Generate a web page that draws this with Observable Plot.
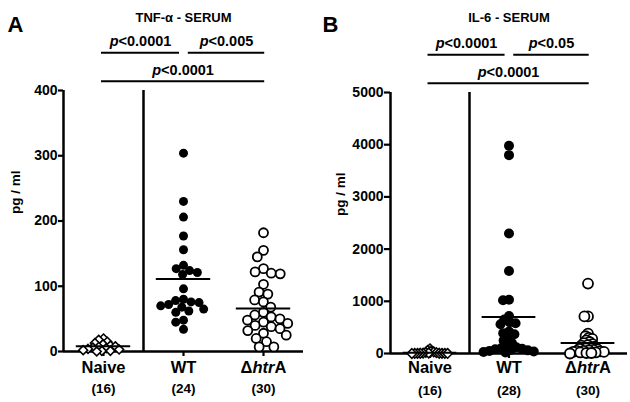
<!DOCTYPE html>
<html>
<head>
<meta charset="utf-8">
<script src="https://cdn.jsdelivr.net/npm/d3@7"></script>
<script src="https://cdn.jsdelivr.net/npm/@observablehq/plot@0.6"></script>
<style>
  html, body { margin: 0; padding: 0; background: white; }
  #wrap { display: flex; width: 630px; height: 402px; }
</style>
</head>
<body>
<div id="wrap"></div>
<script>
// ---- data ----
const categories = ["Naive", "WT", "ΔhtrA"];

// Panel A: TNF-α (pg/ml)
const tnfNaive = [20, 18, 15, 13, 11, 9, 8, 7, 6, 5, 4, 3, 2, 1, 1, 0];
const tnfWT = [304, 230, 206, 177, 156, 132, 127, 124, 121, 118, 96, 80, 78, 76, 75, 72, 70, 68, 65, 62, 60, 48, 45, 34];
const tnfHtrA = [182, 155, 145, 127, 122, 120, 119, 103, 91, 88, 79, 76, 68, 60, 56, 53, 50, 48, 45, 43, 40, 38, 35, 32, 28, 25, 20, 15, 7, 7];
const tnfMeans = [8, 111, 66];
const tnfCounts = ["(16)", "(24)", "(30)"];
const tnfTicks = [0, 100, 200, 300, 400];
const tnfComparisons = [
  {from: "Naive", to: "WT", label: "p<0.0001", level: 1},
  {from: "WT", to: "ΔhtrA", label: "p<0.005", level: 1},
  {from: "Naive", to: "ΔhtrA", label: "p<0.0001", level: 0}
];

// Panel B: IL-6 (pg/ml)
const il6Naive = [90, 60, 40, 30, 20, 15, 10, 8, 5, 5, 3, 2, 2, 1, 1, 0];
const il6WT = [3980, 3800, 2300, 1580, 1030, 1020, 720, 650, 600, 580, 560, 420, 390, 370, 300, 250, 200, 150, 120, 100, 90, 80, 70, 60, 50, 40, 30, 20];
const il6HtrA = [1340, 710, 710, 380, 330, 300, 280, 250, 220, 200, 180, 160, 150, 130, 120, 100, 90, 80, 70, 60, 50, 50, 40, 30, 30, 20, 20, 10, 10, 0];
const il6Means = [12, 700, 200];
const il6Counts = ["(16)", "(28)", "(30)"];
const il6Ticks = [0, 1000, 2000, 3000, 4000, 5000];
const il6Comparisons = [
  {from: "Naive", to: "WT", label: "p<0.0001", level: 1},
  {from: "WT", to: "ΔhtrA", label: "p<0.05", level: 1},
  {from: "Naive", to: "ΔhtrA", label: "p<0.0001", level: 0}
];

// ---- drawing ----
function panel(cfg) {
  const idx = c => categories.indexOf(c);
  const ymax = cfg.ticks[cfg.ticks.length - 1];
  const data = categories.flatMap((c, i) => cfg.values[i].map(v => ({g: c, v})));
  const means = categories.map((c, i) => ({g: c, m: cfg.means[i]}));
  const last = categories.length - 1;
  const brackets = cfg.comparisons.map(d => {
    const i = idx(d.from), j = idx(d.to);
    const x1 = 2 * i + (i > 0 ? 0.12 : -0.05);
    const x2 = 2 * j + (j < last ? -0.1 : 0.03);
    return {g: categories[0], x1, x2, xm: (x1 + x2) / 2, y: ymax * (1.035 + 0.11 * d.level), label: d.label};
  });
  // beeswarm: collision radius (rDodge) may be smaller than the drawn radius, so dots overlap as in the reference
  const swarm = (g, extra) => {
    const k = idx(g);
    return Plot.dot(
      data.filter(d => d.g === g),
      Plot.dodgeX({anchor: "middle", padding: cfg.pads[k]},
        {fx: "g", y: "v", r: cfg.rDodge[k], ariaDescription: "swarm-" + k, ...extra})
    );
  };
  const svg = Plot.plot({
    width: 315,
    height: 402,
    marginLeft: cfg.marginLeft,
    marginRight: cfg.marginRight,
    marginTop: cfg.marginTop,
    marginBottom: cfg.marginBottom,
    style: {fontFamily: "Liberation Sans, Arial, sans-serif", fontWeight: "bold", fontSize: "13px", color: "black", background: "white", overflow: "visible"},
    fx: {domain: categories, padding: 0, axis: "bottom", tickSize: 5, tickFormat: () => "", label: null},
    x: {domain: [-1, 1], axis: null},
    y: {domain: [0, ymax], ticks: cfg.ticks, tickSize: cfg.tickSize, tickPadding: 1, label: null, tickFormat: d => String(d)},
    marks: [
      Plot.ruleY(categories, {fx: d => d, y: 0, strokeWidth: 2.5}),
      Plot.ruleX(["Naive", "WT"], {fx: d => d, x: -1, y1: 0, y2: ymax, strokeWidth: 2.5}),
      swarm("Naive", {symbol: "diamond2", fill: "white", stroke: "black", strokeWidth: 1.6}),
      swarm("WT", {fill: "black"}),
      swarm("ΔhtrA", {fill: "white", stroke: "black", strokeWidth: 1.8}),
      Plot.ruleY(means, {fx: "g", y: "m", x1: -0.68, x2: 0.68, strokeWidth: 2}),
      Plot.ruleY(brackets, {fx: "g", y: "y", x1: "x1", x2: "x2", strokeWidth: 2}),
      Plot.text(brackets, {fx: "g", x: "xm", y: "y", text: "label", dy: -11, fontSize: 14.5}),
      Plot.text(categories, {fx: d => d, text: d => d, frameAnchor: "bottom", dy: cfg.catDy, fontSize: 16.5}),
      Plot.text(categories, {fx: d => d, text: (d, i) => cfg.counts[i], frameAnchor: "bottom", dy: cfg.countDy, fontSize: 13.5}),
      Plot.text(["pg / ml"], {fx: () => "Naive", text: d => d, frameAnchor: "left", dx: cfg.ylabelDx, dy: -7, rotate: -90, fontSize: 13.5}),
      Plot.text([cfg.title], {fx: () => "WT", text: d => d, frameAnchor: "top", dy: cfg.titleDy, fontSize: 13}),
      Plot.text([cfg.letter], {fx: () => "Naive", text: d => d, frameAnchor: "top-left", dx: cfg.letterDx, dy: cfg.letterDy, fontSize: 22, textAnchor: "middle"})
    ]
  });
  return finish(svg, cfg);
}

function finish(svg, cfg) {
  const tickSet = new Set(cfg.ticks.map(String));
  svg.querySelectorAll("text").forEach(t => {
    const s = t.textContent;
    if (s === "ΔhtrA") t.innerHTML = 'Δ<tspan font-style="italic">htr</tspan>A';
    else if (s.startsWith("p<")) t.innerHTML = '<tspan font-style="italic">p</tspan>' + s.slice(1).replace("<", "&lt;");
    else if (tickSet.has(s)) {
      t.setAttribute("font-size", 14);
      t.style.fontSize = "14px";
      t.style.fontWeight = "bold";
    }
  });
  // enlarge swarm dots to their drawn size
  svg.querySelectorAll('[aria-description^="swarm-"]').forEach(g => {
    const k = +g.getAttribute("aria-description").split("-")[1];
    const scale = cfg.rDraw[k] / cfg.rDodge[k];
    g.querySelectorAll("circle").forEach(c => c.setAttribute("r", cfg.rDraw[k]));
    g.querySelectorAll("path").forEach(p => {
      p.setAttribute("transform", (p.getAttribute("transform") || "") + ` scale(${scale})`);
      p.setAttribute("vector-effect", "non-scaling-stroke");
    });
  });
  svg.querySelectorAll('[aria-label="y-axis tick"], [aria-label="fx-axis tick"]').forEach(g => {
    g.setAttribute("stroke-width", 2.2);
    g.querySelectorAll("path, line").forEach(p => p.setAttribute("stroke-width", 2.2));
  });
  return svg;
}

const wrap = document.getElementById("wrap");
wrap.appendChild(panel({
  values: [tnfNaive, tnfWT, tnfHtrA], means: tnfMeans, counts: tnfCounts, ticks: tnfTicks,
  comparisons: tnfComparisons, title: "TNF-α - SERUM", letter: "A",
  marginLeft: 63, marginRight: 12, marginTop: 90, marginBottom: 51,
  tickSize: 5, rDraw: [4, 4.5, 4.5], rDodge: [4, 4.5, 4.5], pads: [-3, -1, 0],
  catDy: 21, countDy: 41, ylabelDx: -48, titleDy: -78, letterDx: -48, letterDy: -74
}));
wrap.appendChild(panel({
  values: [il6Naive, il6WT, il6HtrA], means: il6Means, counts: il6Counts, ticks: il6Ticks,
  comparisons: il6Comparisons, title: "IL-6 - SERUM", letter: "B",
  marginLeft: 75, marginRight: 3, marginTop: 92, marginBottom: 49,
  tickSize: 6, rDraw: [4.3, 5, 5], rDodge: [1.4, 3, 1.8], pads: [0, 0, 0],
  catDy: 19, countDy: 41, ylabelDx: -50, titleDy: -80, letterDx: -60, letterDy: -76
}));
</script>
</body>
</html>
